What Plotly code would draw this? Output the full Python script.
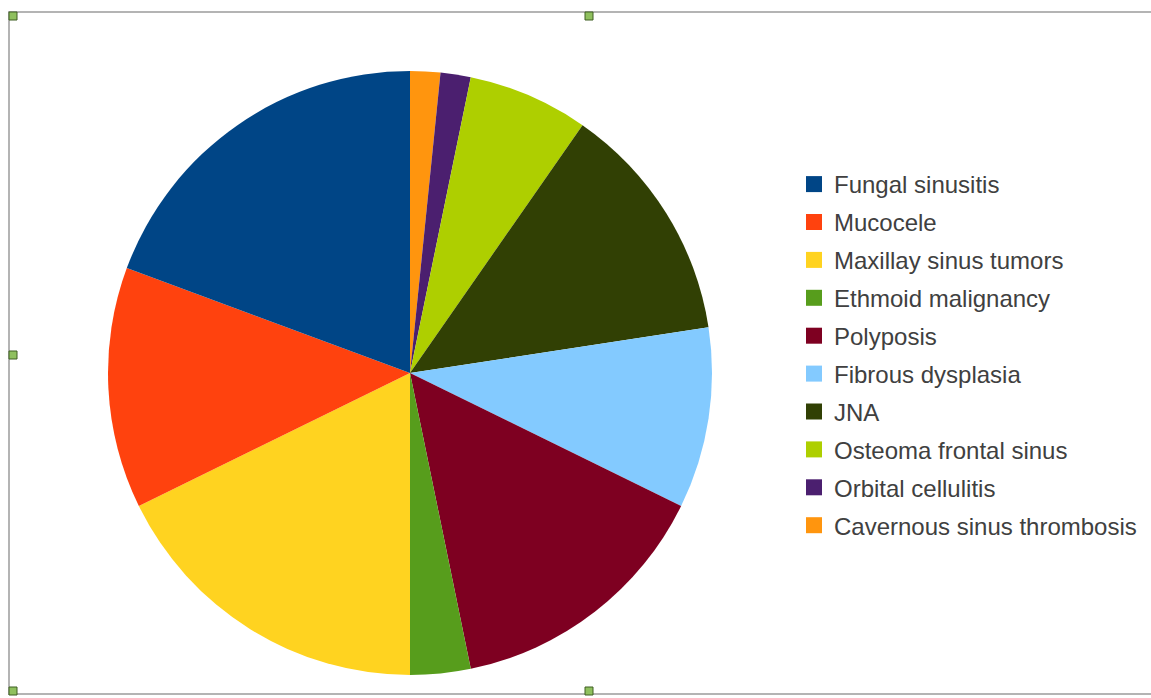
import plotly.graph_objects as go

categories = ["Fungal sinusitis", "Mucocele", "Maxillay sinus tumors", "Ethmoid malignancy",
              "Polyposis", "Fibrous dysplasia", "JNA", "Osteoma frontal sinus",
              "Orbital cellulitis", "Cavernous sinus thrombosis"]
cases = [12, 8, 11, 2, 9, 6, 8, 4, 1, 1]
colors = ["#004586", "#ff420e", "#ffd320", "#579d1c", "#7e0021",
          "#83caff", "#314004", "#aecf00", "#4b1f6f", "#ff950e"]

W, H = 1151, 698

fig = go.Figure()
# reference runs counter-clockwise from 12 o'clock; drawn clockwise in reversed order
fig.add_trace(go.Pie(
    labels=categories[::-1], values=cases[::-1], sort=False, direction="clockwise",
    rotation=0, textinfo="none", hoverinfo="label+value+percent",
    marker=dict(colors=colors[::-1], line=dict(width=0)),
    showlegend=False,
    domain=dict(x=[108 / W, 712 / W], y=[23 / H, 627 / H]),
))

# legend entries (one per category)
for name, col in zip(categories, colors):
    fig.add_trace(go.Scatter(
        x=[None], y=[None], mode="markers", name=name, legendgroup=name,
        marker=dict(symbol="square", size=16, color=col, line=dict(width=0)),
        hoverinfo="skip",
    ))

# frame and selection handles
shapes = [dict(type="rect", xref="paper", yref="paper",
               x0=9 / W, x1=1160 / W, y0=(H - 694) / H, y1=(H - 12) / H,
               line=dict(color="#b4b4b4", width=2), fillcolor="rgba(0,0,0,0)")]
for hx, hy in [(13, 16), (589, 16), (13, 355), (13, 691), (589, 691)]:
    shapes.append(dict(type="rect", xref="paper", yref="paper",
                       x0=(hx - 4) / W, x1=(hx + 4) / W,
                       y0=(H - hy - 4) / H, y1=(H - hy + 4) / H,
                       line=dict(color="#3f5f22", width=1), fillcolor="#8fc05e"))

fig.update_layout(
    width=W, height=H,
    margin=dict(l=0, r=0, t=0, b=0),
    paper_bgcolor="white", plot_bgcolor="white",
    xaxis=dict(visible=False), yaxis=dict(visible=False),
    showlegend=True,
    legend=dict(x=(814 - 20) / W, xanchor="left", y=(H - 162) / H, yanchor="top",
                font=dict(family="Liberation Sans, Arial, sans-serif", size=24, color="#404040"),
                tracegroupgap=3.7, bgcolor="rgba(0,0,0,0)"),
    shapes=shapes,
)

fig.write_html("out.html", config={"displayModeBar": False},
               post_script="document.body.style.margin='0';")
